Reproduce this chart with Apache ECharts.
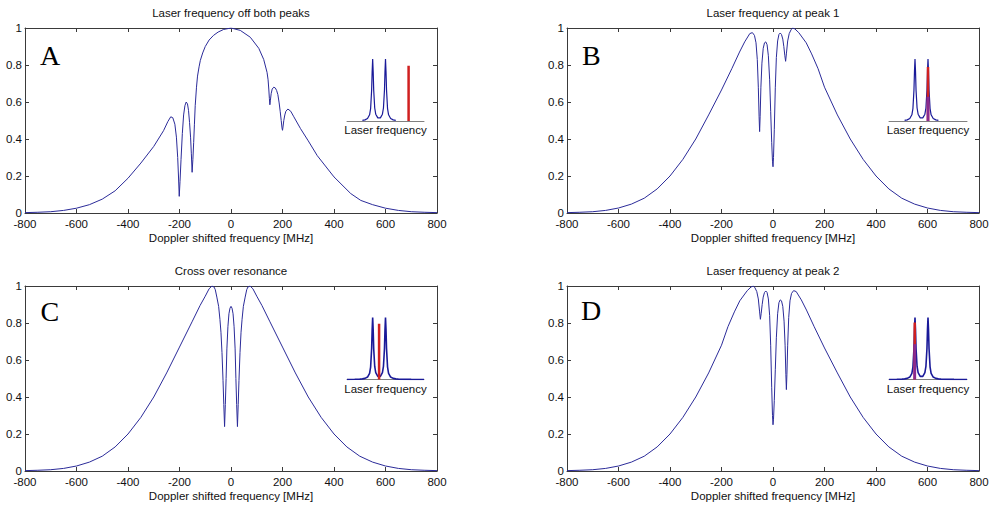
<!DOCTYPE html>
<html><head><meta charset="utf-8">
<script src="https://cdn.jsdelivr.net/npm/echarts@6/dist/echarts.min.js"></script>
<style>html,body{margin:0;padding:0;background:#fff}#c{width:993px;height:506px}</style>
</head><body><div id="c"></div>
<script>
// ---- data (Doppler shifted frequency [MHz], normalised signal) ----
const titles = ['Laser frequency off both peaks','Laser frequency at peak 1','Cross over resonance','Laser frequency at peak 2'];
const letters = ['A','B','C','D'];
const xTickValues = [-800,-600,-400,-200,0,200,400,600,800];
const yTickValues = [0,0.2,0.4,0.6,0.8,1];

const curveA = [[-800,0.002],[-750,0.004],[-700,0.007],[-650,0.014],[-600,0.026],[-550,0.045],[-500,0.075],[-450,0.12],[-400,0.188],[-350,0.27],[-300,0.36],[-262,0.445],[-245,0.495],[-234,0.52],[-226,0.515],[-218,0.48],[-212,0.41],[-207,0.3],[-204,0.2],[-201,0.09],[-198,0.17],[-194,0.29],[-189,0.43],[-184,0.53],[-179,0.58],[-174,0.60],[-169,0.59],[-165,0.555],[-161,0.49],[-157,0.41],[-154,0.32],[-151,0.22],[-148,0.29],[-145,0.38],[-142,0.48],[-139,0.58],[-134,0.68],[-130,0.74],[-124,0.79],[-119,0.825],[-110,0.865],[-100,0.9],[-85,0.935],[-68,0.96],[-50,0.978],[-29,0.992],[0,1.0],[36,0.987],[75,0.95],[108,0.89],[127,0.83],[140,0.76],[144,0.72],[147,0.665],[149,0.62],[151,0.585],[153,0.61],[156,0.645],[160,0.67],[166,0.68],[172,0.676],[177,0.663],[182,0.64],[187,0.595],[191,0.55],[195,0.5],[198,0.46],[200,0.447],[202,0.465],[205,0.5],[209,0.53],[213,0.55],[221,0.562],[232,0.55],[244,0.52],[270,0.456],[300,0.39],[335,0.31],[400,0.195],[465,0.105],[504,0.068],[550,0.045],[600,0.026],[650,0.014],[700,0.007],[750,0.004],[800,0.002]];

const curveB = [[-800,0.002],[-750,0.004],[-700,0.007],[-650,0.014],[-600,0.027],[-550,0.048],[-500,0.08],[-450,0.13],[-400,0.2],[-350,0.29],[-300,0.4],[-250,0.53],[-200,0.665],[-160,0.78],[-130,0.87],[-110,0.925],[-90,0.97],[-80,0.975],[-72,0.96],[-66,0.92],[-61,0.83],[-57,0.68],[-54,0.52],[-52,0.44],[-50,0.52],[-47,0.68],[-43,0.81],[-38,0.89],[-33,0.92],[-28,0.925],[-23,0.91],[-18,0.85],[-13,0.72],[-9,0.55],[-5,0.38],[-2,0.28],[0,0.25],[2,0.3],[5,0.45],[9,0.68],[13,0.84],[18,0.93],[23,0.965],[28,0.973],[33,0.965],[38,0.94],[42,0.9],[46,0.85],[49,0.82],[52,0.86],[57,0.93],[63,0.97],[70,0.99],[76,1.0],[85,0.995],[100,0.975],[129,0.92],[150,0.86],[175,0.78],[200,0.68],[250,0.53],[300,0.4],[350,0.29],[400,0.2],[450,0.13],[500,0.08],[550,0.048],[600,0.027],[650,0.014],[700,0.007],[750,0.004],[800,0.002]];

const curveC = [[-800,0.002],[-750,0.004],[-700,0.007],[-650,0.014],[-600,0.027],[-550,0.048],[-500,0.08],[-450,0.13],[-400,0.2],[-350,0.29],[-300,0.4],[-250,0.53],[-200,0.67],[-150,0.81],[-120,0.895],[-100,0.945],[-85,0.985],[-74,1.0],[-66,0.995],[-61,0.98],[-55,0.94],[-48,0.89],[-43,0.82],[-39,0.75],[-35,0.64],[-31,0.49],[-28,0.36],[-25,0.24],[-22,0.36],[-19,0.5],[-16,0.66],[-12,0.78],[-8,0.85],[-4,0.88],[0,0.89],[4,0.88],[8,0.85],[12,0.78],[16,0.66],[19,0.5],[22,0.36],[25,0.24],[28,0.36],[31,0.49],[35,0.64],[39,0.75],[43,0.82],[48,0.89],[55,0.94],[61,0.98],[66,0.995],[74,1.0],[85,0.985],[100,0.945],[120,0.895],[150,0.81],[200,0.67],[250,0.53],[300,0.4],[350,0.29],[400,0.2],[450,0.13],[500,0.08],[550,0.048],[600,0.027],[650,0.014],[700,0.007],[750,0.004],[800,0.002]];

const curveD = [[-800,0.002],[-750,0.004],[-700,0.007],[-650,0.014],[-600,0.027],[-550,0.048],[-500,0.08],[-450,0.13],[-400,0.2],[-350,0.29],[-300,0.4],[-250,0.53],[-200,0.68],[-175,0.78],[-150,0.86],[-129,0.92],[-100,0.975],[-85,0.995],[-76,1.0],[-70,0.99],[-63,0.97],[-57,0.93],[-52,0.86],[-49,0.82],[-46,0.85],[-42,0.9],[-38,0.94],[-33,0.965],[-28,0.973],[-23,0.965],[-18,0.93],[-13,0.84],[-9,0.68],[-5,0.45],[-2,0.3],[0,0.25],[2,0.28],[5,0.38],[9,0.55],[13,0.72],[18,0.85],[23,0.91],[28,0.925],[33,0.92],[38,0.89],[43,0.81],[47,0.68],[50,0.52],[52,0.44],[54,0.52],[57,0.68],[61,0.83],[66,0.92],[72,0.96],[80,0.975],[90,0.97],[110,0.925],[130,0.87],[160,0.78],[200,0.665],[250,0.53],[300,0.4],[350,0.29],[400,0.2],[450,0.13],[500,0.08],[550,0.048],[600,0.027],[650,0.014],[700,0.007],[750,0.004],[800,0.002]];

// inset: two absorption peaks (arbitrary frequency units) and laser line
const insetPeaks = [[510,0.01],[520,0.018],[530,0.04],[538,0.1],[542,0.2],[546,0.5],[548,0.8],[550,1.0],[552,0.8],[554,0.5],[558,0.21],[562,0.11],[570,0.05],[575,0.05],[580,0.05],[588,0.11],[592,0.21],[596,0.5],[598,0.8],[600,1.0],[602,0.8],[604,0.5],[608,0.2],[612,0.1],[620,0.04],[630,0.018],[640,0.01]];
const insetPeaksFull = [[450,0.0],[480,0.003],[500,0.006],[510,0.01],[520,0.018],[530,0.04],[538,0.1],[542,0.2],[546,0.5],[548,0.8],[550,1.0],[552,0.8],[554,0.5],[558,0.21],[562,0.11],[570,0.05],[575,0.05],[580,0.05],[588,0.11],[592,0.21],[596,0.5],[598,0.8],[600,1.0],[602,0.8],[604,0.5],[608,0.2],[612,0.1],[620,0.04],[630,0.018],[640,0.01],[650,0.006],[700,0.002],[750,0.0]];
const laserFreq = [690, 600, 575, 549];
const laserHeight = [0.89, 0.87, 0.9, 0.92];
const overlapHeight = [0, 0.39, 0, 0.57];

// ---- layout / style ----
const FONT = "'Liberation Sans', Arial, sans-serif";
const AXIS = '#3a3a3a';
const TXT = '#111';
const BLUE = '#2b2b99';
const FS = 11.5;
const mainGrids = [
  {left:25, top:28, width:412, height:185},
  {left:567, top:28, width:412, height:185},
  {left:25, top:286, width:412, height:185},
  {left:567, top:286, width:412, height:185}
];
const insetGrids = [
  {left:347, top:59, width:77, height:62},
  {left:889, top:59, width:78, height:62},
  {left:347, top:317.5, width:77, height:62},
  {left:889, top:317.5, width:78, height:62}
];
const letterPos = [[40,41.5],[582,41.5],[40.5,297.5],[581,296.5]];
const curves = [curveA, curveB, curveC, curveD];

const grid = [];
const xAxis = [];
const yAxis = [];
const series = [];
const title = [];
const graphic = [];

mainGrids.forEach((g, i) => {
  grid.push(Object.assign({containLabel:false, outerBoundsMode:'none'}, g));
  const base = {gridIndex:i, type:'value', min:-800, max:800, interval:200,
    axisLine:{show:true, onZero:false, lineStyle:{color:AXIS, width:1}},
    axisTick:{show:true, inside:true, length:4, lineStyle:{color:AXIS}},
    splitLine:{show:false}};
  xAxis.push(Object.assign({}, base, {position:'bottom',
    axisLabel:{show:true, margin:5, fontSize:FS, lineHeight:11, color:TXT, fontFamily:FONT, showMinLabel:true, showMaxLabel:true},
    name:'Doppler shifted frequency [MHz]', nameLocation:'middle', nameGap:19,
    nameTextStyle:{fontSize:FS, color:TXT, fontFamily:FONT}}));
  xAxis.push(Object.assign({}, base, {position:'top', axisLabel:{show:false}}));
  const ybase = {gridIndex:i, type:'value', min:0, max:1, interval:0.2,
    axisLine:{show:true, onZero:false, lineStyle:{color:AXIS, width:1}},
    axisTick:{show:true, inside:true, length:4, lineStyle:{color:AXIS}},
    splitLine:{show:false}};
  yAxis.push(Object.assign({}, ybase, {position:'left',
    axisLabel:{show:true, margin:3, fontSize:FS, lineHeight:9, color:TXT, fontFamily:FONT}}));
  yAxis.push(Object.assign({}, ybase, {position:'right', axisLabel:{show:false}}));
  series.push({type:'line', xAxisIndex:2*i, yAxisIndex:2*i, data:curves[i], showSymbol:false, symbol:'none',
    lineStyle:{color:BLUE, width:1}, silent:true, animation:false, z:3});
  title.push({text:titles[i], left:g.left + g.width/2 - 5, top: g.top - 26, textAlign:'center',
    textStyle:{fontSize:FS, fontWeight:'normal', color:TXT, fontFamily:FONT}});
  graphic.push({type:'text', left:letterPos[i][0], top:letterPos[i][1],
    style:{text:letters[i], font:"28px 'Liberation Serif', 'Times New Roman', serif", fill:'#000'}, z:10});
});

insetGrids.forEach((g, i) => {
  const gi = 4 + i;
  grid.push(Object.assign({containLabel:false, outerBoundsMode:'none', z:5}, g));
  xAxis.push({gridIndex:gi, type:'value', min:450, max:750,
    axisLine:{show:true, onZero:false, lineStyle:{color:'#808080', width:1}},
    axisTick:{show:false}, axisLabel:{show:false}, splitLine:{show:false},
    name:'Laser frequency', nameLocation:'middle', nameGap:3,
    nameTextStyle:{fontSize:FS, color:TXT, fontFamily:FONT}});
  yAxis.push({gridIndex:gi, type:'value', min:0, max:1, show:false});
  const ax = 8 + i;
  series.push({type:'line', xAxisIndex:ax, yAxisIndex:ax, data: i >= 2 ? insetPeaksFull : insetPeaks,
    showSymbol:false, symbol:'none', lineStyle:{color:'#1a1a99', width: i >= 2 ? 1.6 : 1.2}, silent:true, animation:false, z:4});
  series.push({type:'line', xAxisIndex:ax, yAxisIndex:ax, data:[[laserFreq[i],0],[laserFreq[i],laserHeight[i]]],
    showSymbol:false, symbol:'none', lineStyle:{color:'#d02020', width:2.5}, silent:true, animation:false, z:5});
  if (overlapHeight[i] > 0) {
    series.push({type:'line', xAxisIndex:ax, yAxisIndex:ax, data:[[laserFreq[i],0],[laserFreq[i],overlapHeight[i]]],
      showSymbol:false, symbol:'none', lineStyle:{color:'#8a2a8e', width:2.8}, silent:true, animation:false, z:6});
  }
});

const chart = echarts.init(document.getElementById('c'), null, {renderer:'svg'});
chart.setOption({backgroundColor:'#fff', animation:false, title, grid, xAxis, yAxis, series, graphic});
</script></body></html>
